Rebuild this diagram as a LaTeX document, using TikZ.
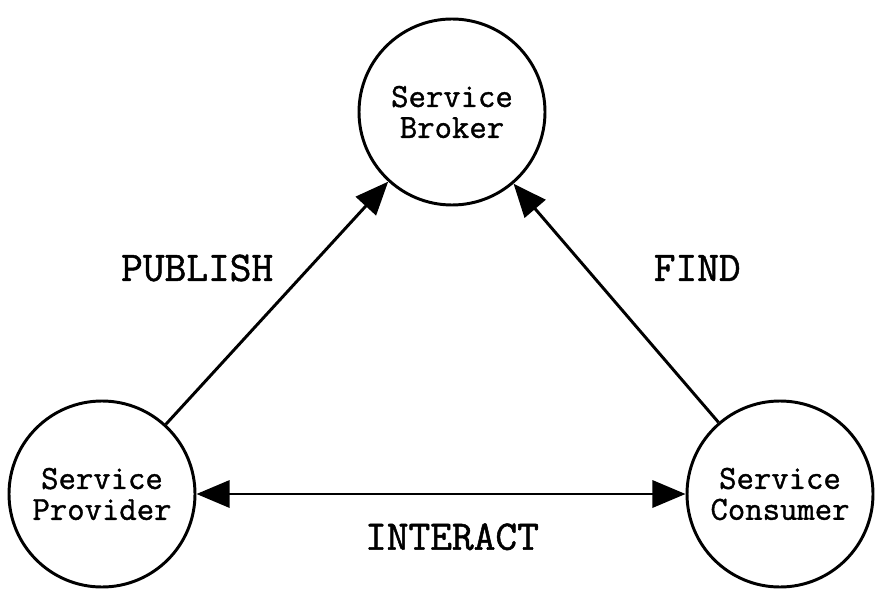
\documentclass[tikz,border=0pt]{standalone}
\usepackage{fontspec}
\usepackage{tikz}
\usetikzlibrary{arrows.meta}
\newfontfamily\rolefont[FakeBold=1.2]{Latin Modern Mono}

\begin{document}
\begin{tikzpicture}[
            > = {Triangle[length=8.3mm,width=6.8mm]}, % arrow head style
            line width = 2.1pt, % line style
            role/.style = {shape=circle,draw=black,minimum size=4.65cm,inner sep=0pt,
                           align=center,font=\rolefont\fontsize{24}{22}\selectfont},
            verb/.style = {font=\rolefont\fontsize{30}{30}\selectfont}
        ]
\useasboundingbox (0,0) rectangle (22.15,-15.25);

\node[role] (B) at (11.3,-2.8) {Service\\Broker};
\node[role] (P) at (2.55,-12.35) {Service\\Provider};
\node[role] (C) at (19.5,-12.35) {Service\\Consumer};

\node[verb] (publish) at (4.93,-6.7) {PUBLISH};
\node[verb] (find) at (17.43,-6.7) {FIND};
\node[verb] (interact) at (11.3,-13.42) {INTERACT};

 \path [->] (P) edge (B);
 \path [->] (C) edge (B);
 \path [<->] (P) edge (C);

\end{tikzpicture}
\end{document}
